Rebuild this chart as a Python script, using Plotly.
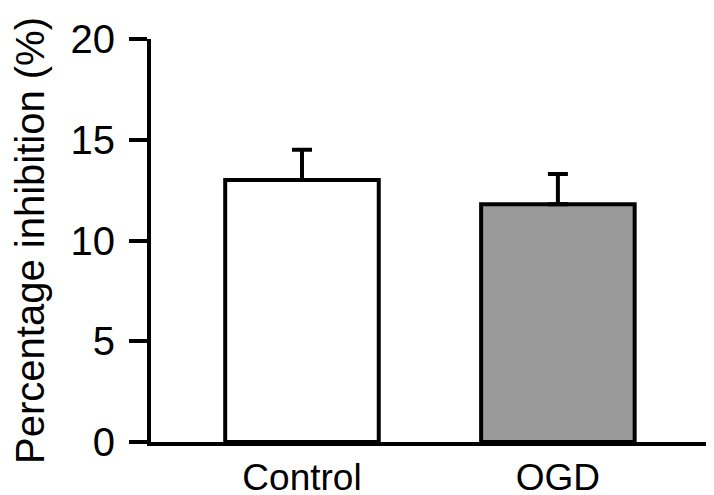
import plotly.graph_objects as go

categories = ["Control", "OGD"]
values = [13.0, 11.8]
errors = [1.5, 1.5]
bar_colors = ["#ffffff", "#9a9a9a"]
y_ticks = [0, 5, 10, 15, 20]

fig = go.Figure()
fig.add_trace(go.Bar(
    x=[0, 1], y=values,
    width=0.6,
    marker=dict(color=bar_colors, line=dict(color="black", width=4)),
    error_y=dict(type="data", array=errors, arrayminus=[0, 0], symmetric=False,
                 color="black", thickness=4, width=10),
))

font_family = "Liberation Sans, Arial, sans-serif"
fig.update_layout(
    width=714, height=495,
    margin=dict(l=143, r=8, t=31, b=61),
    plot_bgcolor="white", paper_bgcolor="white",
    showlegend=False,
    font=dict(family=font_family, color="black", size=36),
    xaxis=dict(
        range=[-0.59, 1.61],
        tickmode="array", tickvals=[0, 1], ticktext=categories,
        showline=True, linecolor="black", linewidth=4,
        ticks="", showgrid=False, zeroline=False,
        tickfont=dict(size=37), automargin=False,
    ),
    yaxis=dict(
        range=[0, 20],
        tickmode="array", tickvals=y_ticks,
        showline=True, linecolor="black", linewidth=4,
        ticks="outside", ticklen=18, tickwidth=4, tickcolor="black",
        showgrid=False, zeroline=False,
        tickfont=dict(size=40), automargin=False,
        ticklabelstandoff=6,
        title=dict(text="Percentage inhibition (%)", font=dict(size=40), standoff=16),
    ),
)

fig.write_html("out.html")
